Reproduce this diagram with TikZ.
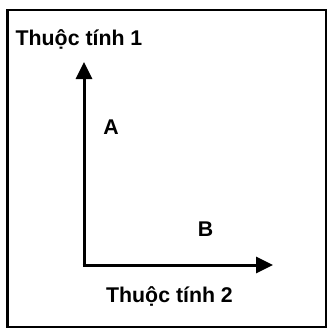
\documentclass[tikz,border=0pt]{standalone}
\usepackage{fontspec}
\setmainfont{Liberation Sans}
\usetikzlibrary{arrows.meta}
\tikzset{
  lbl/.style={inner sep=0pt, font=\fontsize{21.3}{25}\selectfont\bfseries},
  axis/.style={line width=3pt, -{Triangle[length=17pt,width=16pt]}},
  frame/.style={line width=2.5pt}
}
\begin{document}
\begin{tikzpicture}[x=1pt,y=-1pt]
\useasboundingbox (0,0) rectangle (328,329);
\draw[frame] (7.5,10) rectangle (326,327);
\coordinate (O) at (84,265);
\coordinate (Y) at (84,62);
\coordinate (X) at (273,265);
\draw[axis] ([yshift=-1.5pt]O) -- (Y);
\draw[axis] ([xshift=-1.5pt]O) -- (X);
\node[lbl, anchor=base west] (t1) at (15.5,45.5) {Thuộc tính 1};
\node[lbl, anchor=base west] (t2) at (106,302.5) {Thuộc tính 2};
\node[lbl, anchor=base] (a) at (111,134) {A};
\node[lbl, anchor=base] (b) at (205.5,236) {B};
\end{tikzpicture}
\end{document}
